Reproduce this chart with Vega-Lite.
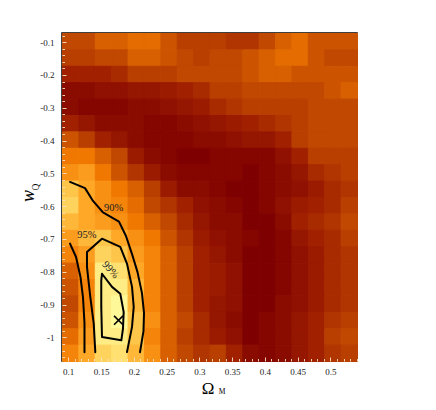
{
"$schema": "https://vega.github.io/schema/vega-lite/v6.json",
"width": 295, "height": 328,
"autosize": "none",
"padding": {"left": 62, "top": 33, "right": 79, "bottom": 49},
"background": "white",
"config": {"view": {"stroke": "#000", "strokeWidth": 1.5}, "font": "Liberation Serif"},
"datasets": {
"grid": [
{"om":0.103,"wq":-0.097,"v":5},{"om":0.128,"wq":-0.097,"v":5},{"om":0.153,"wq":-0.097,"v":6},{"om":0.178,"wq":-0.097,"v":6},{"om":0.203,"wq":-0.097,"v":6.5},{"om":0.228,"wq":-0.097,"v":6.5},{"om":0.253,"wq":-0.097,"v":5.5},{"om":0.278,"wq":-0.097,"v":4.5},{"om":0.303,"wq":-0.097,"v":4.5},{"om":0.328,"wq":-0.097,"v":4.5},{"om":0.353,"wq":-0.097,"v":4},{"om":0.378,"wq":-0.097,"v":4},{"om":0.403,"wq":-0.097,"v":5},{"om":0.428,"wq":-0.097,"v":6},{"om":0.453,"wq":-0.097,"v":6.5},{"om":0.478,"wq":-0.097,"v":5.5},{"om":0.503,"wq":-0.097,"v":5.5},{"om":0.528,"wq":-0.097,"v":5.5},
{"om":0.103,"wq":-0.147,"v":4.5},{"om":0.128,"wq":-0.147,"v":4.5},{"om":0.153,"wq":-0.147,"v":5},{"om":0.178,"wq":-0.147,"v":5},{"om":0.203,"wq":-0.147,"v":6},{"om":0.228,"wq":-0.147,"v":6},{"om":0.253,"wq":-0.147,"v":5.5},{"om":0.278,"wq":-0.147,"v":5},{"om":0.303,"wq":-0.147,"v":4.5},{"om":0.328,"wq":-0.147,"v":5},{"om":0.353,"wq":-0.147,"v":5},{"om":0.378,"wq":-0.147,"v":5.5},{"om":0.403,"wq":-0.147,"v":6},{"om":0.428,"wq":-0.147,"v":6.5},{"om":0.453,"wq":-0.147,"v":6.5},{"om":0.478,"wq":-0.147,"v":5.5},{"om":0.503,"wq":-0.147,"v":5},{"om":0.528,"wq":-0.147,"v":5},
{"om":0.103,"wq":-0.197,"v":3},{"om":0.128,"wq":-0.197,"v":3},{"om":0.153,"wq":-0.197,"v":3},{"om":0.178,"wq":-0.197,"v":3.5},{"om":0.203,"wq":-0.197,"v":4.5},{"om":0.228,"wq":-0.197,"v":4.5},{"om":0.253,"wq":-0.197,"v":4.5},{"om":0.278,"wq":-0.197,"v":5},{"om":0.303,"wq":-0.197,"v":5},{"om":0.328,"wq":-0.197,"v":5},{"om":0.353,"wq":-0.197,"v":5},{"om":0.378,"wq":-0.197,"v":5.5},{"om":0.403,"wq":-0.197,"v":6},{"om":0.428,"wq":-0.197,"v":6},{"om":0.453,"wq":-0.197,"v":5.5},{"om":0.478,"wq":-0.197,"v":5.5},{"om":0.503,"wq":-0.197,"v":5.5},{"om":0.528,"wq":-0.197,"v":5.5},
{"om":0.103,"wq":-0.247,"v":1},{"om":0.128,"wq":-0.247,"v":1},{"om":0.153,"wq":-0.247,"v":1.5},{"om":0.178,"wq":-0.247,"v":1.5},{"om":0.203,"wq":-0.247,"v":2},{"om":0.228,"wq":-0.247,"v":2},{"om":0.253,"wq":-0.247,"v":2.5},{"om":0.278,"wq":-0.247,"v":3},{"om":0.303,"wq":-0.247,"v":3.5},{"om":0.328,"wq":-0.247,"v":4.5},{"om":0.353,"wq":-0.247,"v":4.5},{"om":0.378,"wq":-0.247,"v":5},{"om":0.403,"wq":-0.247,"v":5},{"om":0.428,"wq":-0.247,"v":5},{"om":0.453,"wq":-0.247,"v":5},{"om":0.478,"wq":-0.247,"v":5},{"om":0.503,"wq":-0.247,"v":5.5},{"om":0.528,"wq":-0.247,"v":6},
{"om":0.103,"wq":-0.297,"v":1},{"om":0.128,"wq":-0.297,"v":0.5},{"om":0.153,"wq":-0.297,"v":0.5},{"om":0.178,"wq":-0.297,"v":0.5},{"om":0.203,"wq":-0.297,"v":1},{"om":0.228,"wq":-0.297,"v":1},{"om":0.253,"wq":-0.297,"v":1.5},{"om":0.278,"wq":-0.297,"v":2},{"om":0.303,"wq":-0.297,"v":2.5},{"om":0.328,"wq":-0.297,"v":3.5},{"om":0.353,"wq":-0.297,"v":4},{"om":0.378,"wq":-0.297,"v":4.5},{"om":0.403,"wq":-0.297,"v":4.5},{"om":0.428,"wq":-0.297,"v":4.5},{"om":0.453,"wq":-0.297,"v":4.5},{"om":0.478,"wq":-0.297,"v":5},{"om":0.503,"wq":-0.297,"v":5},{"om":0.528,"wq":-0.297,"v":5},
{"om":0.103,"wq":-0.347,"v":3},{"om":0.128,"wq":-0.347,"v":2},{"om":0.153,"wq":-0.347,"v":1},{"om":0.178,"wq":-0.347,"v":1},{"om":0.203,"wq":-0.347,"v":1},{"om":0.228,"wq":-0.347,"v":0.5},{"om":0.253,"wq":-0.347,"v":0.5},{"om":0.278,"wq":-0.347,"v":1},{"om":0.303,"wq":-0.347,"v":1.5},{"om":0.328,"wq":-0.347,"v":2},{"om":0.353,"wq":-0.347,"v":2.5},{"om":0.378,"wq":-0.347,"v":3},{"om":0.403,"wq":-0.347,"v":3.5},{"om":0.428,"wq":-0.347,"v":4},{"om":0.453,"wq":-0.347,"v":4.5},{"om":0.478,"wq":-0.347,"v":5},{"om":0.503,"wq":-0.347,"v":5},{"om":0.528,"wq":-0.347,"v":5},
{"om":0.103,"wq":-0.397,"v":5.5},{"om":0.128,"wq":-0.397,"v":4.5},{"om":0.153,"wq":-0.397,"v":3},{"om":0.178,"wq":-0.397,"v":2},{"om":0.203,"wq":-0.397,"v":1},{"om":0.228,"wq":-0.397,"v":0.5},{"om":0.253,"wq":-0.397,"v":0.5},{"om":0.278,"wq":-0.397,"v":0.5},{"om":0.303,"wq":-0.397,"v":1},{"om":0.328,"wq":-0.397,"v":1},{"om":0.353,"wq":-0.397,"v":1.5},{"om":0.378,"wq":-0.397,"v":2},{"om":0.403,"wq":-0.397,"v":2},{"om":0.428,"wq":-0.397,"v":3},{"om":0.453,"wq":-0.397,"v":4.5},{"om":0.478,"wq":-0.397,"v":5},{"om":0.503,"wq":-0.397,"v":5},{"om":0.528,"wq":-0.397,"v":5},
{"om":0.103,"wq":-0.447,"v":7},{"om":0.128,"wq":-0.447,"v":7},{"om":0.153,"wq":-0.447,"v":6},{"om":0.178,"wq":-0.447,"v":5},{"om":0.203,"wq":-0.447,"v":2.5},{"om":0.228,"wq":-0.447,"v":1},{"om":0.253,"wq":-0.447,"v":0.5},{"om":0.278,"wq":-0.447,"v":0},{"om":0.303,"wq":-0.447,"v":0},{"om":0.328,"wq":-0.447,"v":0.5},{"om":0.353,"wq":-0.447,"v":0.5},{"om":0.378,"wq":-0.447,"v":0.5},{"om":0.403,"wq":-0.447,"v":0.5},{"om":0.428,"wq":-0.447,"v":1.5},{"om":0.453,"wq":-0.447,"v":3},{"om":0.478,"wq":-0.447,"v":4.5},{"om":0.503,"wq":-0.447,"v":4.5},{"om":0.528,"wq":-0.447,"v":4.5},
{"om":0.103,"wq":-0.497,"v":8},{"om":0.128,"wq":-0.497,"v":8.5},{"om":0.153,"wq":-0.497,"v":7},{"om":0.178,"wq":-0.497,"v":5.5},{"om":0.203,"wq":-0.497,"v":4},{"om":0.228,"wq":-0.497,"v":2.5},{"om":0.253,"wq":-0.497,"v":1},{"om":0.278,"wq":-0.497,"v":0.5},{"om":0.303,"wq":-0.497,"v":0.5},{"om":0.328,"wq":-0.497,"v":0.5},{"om":0.353,"wq":-0.497,"v":0.5},{"om":0.378,"wq":-0.497,"v":0},{"om":0.403,"wq":-0.497,"v":0.5},{"om":0.428,"wq":-0.497,"v":1},{"om":0.453,"wq":-0.497,"v":2},{"om":0.478,"wq":-0.497,"v":3.5},{"om":0.503,"wq":-0.497,"v":4},{"om":0.528,"wq":-0.497,"v":4.5},
{"om":0.103,"wq":-0.547,"v":10},{"om":0.128,"wq":-0.547,"v":9},{"om":0.153,"wq":-0.547,"v":8},{"om":0.178,"wq":-0.547,"v":7},{"om":0.203,"wq":-0.547,"v":6},{"om":0.228,"wq":-0.547,"v":4.5},{"om":0.253,"wq":-0.547,"v":2.5},{"om":0.278,"wq":-0.547,"v":1},{"om":0.303,"wq":-0.547,"v":1},{"om":0.328,"wq":-0.547,"v":0.5},{"om":0.353,"wq":-0.547,"v":0},{"om":0.378,"wq":-0.547,"v":0},{"om":0.403,"wq":-0.547,"v":0.5},{"om":0.428,"wq":-0.547,"v":1},{"om":0.453,"wq":-0.547,"v":1.5},{"om":0.478,"wq":-0.547,"v":2.5},{"om":0.503,"wq":-0.547,"v":3.5},{"om":0.528,"wq":-0.547,"v":4},
{"om":0.103,"wq":-0.597,"v":10.5},{"om":0.128,"wq":-0.597,"v":9},{"om":0.153,"wq":-0.597,"v":8},{"om":0.178,"wq":-0.597,"v":7.5},{"om":0.203,"wq":-0.597,"v":6.5},{"om":0.228,"wq":-0.597,"v":5},{"om":0.253,"wq":-0.597,"v":4},{"om":0.278,"wq":-0.597,"v":3},{"om":0.303,"wq":-0.597,"v":1.5},{"om":0.328,"wq":-0.597,"v":1},{"om":0.353,"wq":-0.597,"v":0.5},{"om":0.378,"wq":-0.597,"v":0},{"om":0.403,"wq":-0.597,"v":0.5},{"om":0.428,"wq":-0.597,"v":1.5},{"om":0.453,"wq":-0.597,"v":2.5},{"om":0.478,"wq":-0.597,"v":3},{"om":0.503,"wq":-0.597,"v":3.5},{"om":0.528,"wq":-0.597,"v":4.5},
{"om":0.103,"wq":-0.647,"v":9.5},{"om":0.128,"wq":-0.647,"v":9},{"om":0.153,"wq":-0.647,"v":8.5},{"om":0.178,"wq":-0.647,"v":8},{"om":0.203,"wq":-0.647,"v":7},{"om":0.228,"wq":-0.647,"v":6},{"om":0.253,"wq":-0.647,"v":5},{"om":0.278,"wq":-0.647,"v":3.5},{"om":0.303,"wq":-0.647,"v":2},{"om":0.328,"wq":-0.647,"v":1},{"om":0.353,"wq":-0.647,"v":1},{"om":0.378,"wq":-0.647,"v":0},{"om":0.403,"wq":-0.647,"v":0},{"om":0.428,"wq":-0.647,"v":1},{"om":0.453,"wq":-0.647,"v":3},{"om":0.478,"wq":-0.647,"v":3.5},{"om":0.503,"wq":-0.647,"v":4},{"om":0.528,"wq":-0.647,"v":5},
{"om":0.103,"wq":-0.697,"v":8.5},{"om":0.128,"wq":-0.697,"v":9.5},{"om":0.153,"wq":-0.697,"v":10},{"om":0.178,"wq":-0.697,"v":9},{"om":0.203,"wq":-0.697,"v":8},{"om":0.228,"wq":-0.697,"v":7},{"om":0.253,"wq":-0.697,"v":5.5},{"om":0.278,"wq":-0.697,"v":4},{"om":0.303,"wq":-0.697,"v":2.5},{"om":0.328,"wq":-0.697,"v":1.5},{"om":0.353,"wq":-0.697,"v":1},{"om":0.378,"wq":-0.697,"v":0.5},{"om":0.403,"wq":-0.697,"v":0},{"om":0.428,"wq":-0.697,"v":0.5},{"om":0.453,"wq":-0.697,"v":2},{"om":0.478,"wq":-0.697,"v":3},{"om":0.503,"wq":-0.697,"v":3.5},{"om":0.528,"wq":-0.697,"v":4.5},
{"om":0.103,"wq":-0.747,"v":7.5},{"om":0.128,"wq":-0.747,"v":8.5},{"om":0.153,"wq":-0.747,"v":10.5},{"om":0.178,"wq":-0.747,"v":10},{"om":0.203,"wq":-0.747,"v":8.5},{"om":0.228,"wq":-0.747,"v":7.5},{"om":0.253,"wq":-0.747,"v":6},{"om":0.278,"wq":-0.747,"v":4.5},{"om":0.303,"wq":-0.747,"v":3},{"om":0.328,"wq":-0.747,"v":2},{"om":0.353,"wq":-0.747,"v":1},{"om":0.378,"wq":-0.747,"v":0},{"om":0.403,"wq":-0.747,"v":0},{"om":0.428,"wq":-0.747,"v":0.5},{"om":0.453,"wq":-0.747,"v":1.5},{"om":0.478,"wq":-0.747,"v":2.5},{"om":0.503,"wq":-0.747,"v":3.5},{"om":0.528,"wq":-0.747,"v":4},
{"om":0.103,"wq":-0.797,"v":6},{"om":0.128,"wq":-0.797,"v":8},{"om":0.153,"wq":-0.797,"v":11.5},{"om":0.178,"wq":-0.797,"v":11},{"om":0.203,"wq":-0.797,"v":9},{"om":0.228,"wq":-0.797,"v":7.5},{"om":0.253,"wq":-0.797,"v":6},{"om":0.278,"wq":-0.797,"v":4.5},{"om":0.303,"wq":-0.797,"v":3},{"om":0.328,"wq":-0.797,"v":2.5},{"om":0.353,"wq":-0.797,"v":1.5},{"om":0.378,"wq":-0.797,"v":0},{"om":0.403,"wq":-0.797,"v":0},{"om":0.428,"wq":-0.797,"v":0.5},{"om":0.453,"wq":-0.797,"v":1.5},{"om":0.478,"wq":-0.797,"v":2.5},{"om":0.503,"wq":-0.797,"v":3.5},{"om":0.528,"wq":-0.797,"v":4},
{"om":0.103,"wq":-0.847,"v":5.5},{"om":0.128,"wq":-0.847,"v":7.5},{"om":0.153,"wq":-0.847,"v":11.5},{"om":0.178,"wq":-0.847,"v":11.5},{"om":0.203,"wq":-0.847,"v":9.5},{"om":0.228,"wq":-0.847,"v":7.5},{"om":0.253,"wq":-0.847,"v":6},{"om":0.278,"wq":-0.847,"v":4.5},{"om":0.303,"wq":-0.847,"v":3},{"om":0.328,"wq":-0.847,"v":2.5},{"om":0.353,"wq":-0.847,"v":1.5},{"om":0.378,"wq":-0.847,"v":0},{"om":0.403,"wq":-0.847,"v":0},{"om":0.428,"wq":-0.847,"v":0.5},{"om":0.453,"wq":-0.847,"v":1.5},{"om":0.478,"wq":-0.847,"v":2.5},{"om":0.503,"wq":-0.847,"v":3.5},{"om":0.528,"wq":-0.847,"v":4},
{"om":0.103,"wq":-0.897,"v":5},{"om":0.128,"wq":-0.897,"v":7.5},{"om":0.153,"wq":-0.897,"v":11.5},{"om":0.178,"wq":-0.897,"v":12},{"om":0.203,"wq":-0.897,"v":9.5},{"om":0.228,"wq":-0.897,"v":7.5},{"om":0.253,"wq":-0.897,"v":6},{"om":0.278,"wq":-0.897,"v":4.5},{"om":0.303,"wq":-0.897,"v":3},{"om":0.328,"wq":-0.897,"v":2},{"om":0.353,"wq":-0.897,"v":1.5},{"om":0.378,"wq":-0.897,"v":0},{"om":0.403,"wq":-0.897,"v":0},{"om":0.428,"wq":-0.897,"v":1},{"om":0.453,"wq":-0.897,"v":1.5},{"om":0.478,"wq":-0.897,"v":2.5},{"om":0.503,"wq":-0.897,"v":3.5},{"om":0.528,"wq":-0.897,"v":4},
{"om":0.103,"wq":-0.947,"v":5.5},{"om":0.128,"wq":-0.947,"v":8},{"om":0.153,"wq":-0.947,"v":11.5},{"om":0.178,"wq":-0.947,"v":12},{"om":0.203,"wq":-0.947,"v":10},{"om":0.228,"wq":-0.947,"v":8},{"om":0.253,"wq":-0.947,"v":6},{"om":0.278,"wq":-0.947,"v":5},{"om":0.303,"wq":-0.947,"v":3.5},{"om":0.328,"wq":-0.947,"v":2},{"om":0.353,"wq":-0.947,"v":1},{"om":0.378,"wq":-0.947,"v":0},{"om":0.403,"wq":-0.947,"v":0.5},{"om":0.428,"wq":-0.947,"v":1},{"om":0.453,"wq":-0.947,"v":2},{"om":0.478,"wq":-0.947,"v":3},{"om":0.503,"wq":-0.947,"v":4},{"om":0.528,"wq":-0.947,"v":4.5},
{"om":0.103,"wq":-0.997,"v":6.5},{"om":0.128,"wq":-0.997,"v":8.5},{"om":0.153,"wq":-0.997,"v":11.5},{"om":0.178,"wq":-0.997,"v":11.5},{"om":0.203,"wq":-0.997,"v":10},{"om":0.228,"wq":-0.997,"v":7.5},{"om":0.253,"wq":-0.997,"v":6},{"om":0.278,"wq":-0.997,"v":4.5},{"om":0.303,"wq":-0.997,"v":3.5},{"om":0.328,"wq":-0.997,"v":2.5},{"om":0.353,"wq":-0.997,"v":1.5},{"om":0.378,"wq":-0.997,"v":0},{"om":0.403,"wq":-0.997,"v":0.5},{"om":0.428,"wq":-0.997,"v":1},{"om":0.453,"wq":-0.997,"v":2},{"om":0.478,"wq":-0.997,"v":3},{"om":0.503,"wq":-0.997,"v":4.5},{"om":0.528,"wq":-0.997,"v":5},
{"om":0.103,"wq":-1.047,"v":7.5},{"om":0.128,"wq":-1.047,"v":9},{"om":0.153,"wq":-1.047,"v":10.5},{"om":0.178,"wq":-1.047,"v":11},{"om":0.203,"wq":-1.047,"v":9.5},{"om":0.228,"wq":-1.047,"v":8},{"om":0.253,"wq":-1.047,"v":6},{"om":0.278,"wq":-1.047,"v":5},{"om":0.303,"wq":-1.047,"v":4},{"om":0.328,"wq":-1.047,"v":4.5},{"om":0.353,"wq":-1.047,"v":3},{"om":0.378,"wq":-1.047,"v":1},{"om":0.403,"wq":-1.047,"v":0.5},{"om":0.428,"wq":-1.047,"v":1},{"om":0.453,"wq":-1.047,"v":2},{"om":0.478,"wq":-1.047,"v":3},{"om":0.503,"wq":-1.047,"v":4},{"om":0.528,"wq":-1.047,"v":4.5}
],
"lines": [
{"c":"A","i":0,"om":0.1027,"wq":-0.526},{"c":"A","i":1,"om":0.1256,"wq":-0.545},{"c":"A","i":2,"om":0.1378,"wq":-0.584},{"c":"A","i":3,"om":0.153,"wq":-0.619},{"c":"A","i":4,"om":0.1774,"wq":-0.647},{"c":"A","i":5,"om":0.1881,"wq":-0.691},{"c":"A","i":6,"om":0.1973,"wq":-0.746},{"c":"A","i":7,"om":0.2057,"wq":-0.801},{"c":"A","i":8,"om":0.2125,"wq":-0.865},{"c":"A","i":9,"om":0.2156,"wq":-0.926},{"c":"A","i":10,"om":0.2148,"wq":-0.981},{"c":"A","i":11,"om":0.2095,"wq":-1.045},
{"c":"B","i":0,"om":0.1027,"wq":-0.714},{"c":"B","i":1,"om":0.1119,"wq":-0.755},{"c":"B","i":2,"om":0.1187,"wq":-0.816},{"c":"B","i":3,"om":0.1225,"wq":-0.877},{"c":"B","i":4,"om":0.1248,"wq":-0.956},{"c":"B","i":5,"om":0.1248,"wq":-1.045},
{"c":"C","i":0,"om":0.1413,"wq":-1.045},{"c":"C","i":1,"om":0.1389,"wq":-0.958},{"c":"C","i":2,"om":0.1337,"wq":-0.877},{"c":"C","i":3,"om":0.1286,"wq":-0.785},{"c":"C","i":4,"om":0.1286,"wq":-0.74},{"c":"C","i":5,"om":0.1515,"wq":-0.699},{"c":"C","i":6,"om":0.1794,"wq":-0.724},{"c":"C","i":7,"om":0.1896,"wq":-0.775},{"c":"C","i":8,"om":0.1973,"wq":-0.846},{"c":"C","i":9,"om":0.1999,"wq":-0.907},{"c":"C","i":10,"om":0.1973,"wq":-0.968},{"c":"C","i":11,"om":0.1896,"wq":-1.045},
{"c":"D","i":0,"om":0.1515,"wq":-0.806},{"c":"D","i":1,"om":0.1668,"wq":-0.846},{"c":"D","i":2,"om":0.1794,"wq":-0.867},{"c":"D","i":3,"om":0.1846,"wq":-0.923},{"c":"D","i":4,"om":0.1835,"wq":-0.974},{"c":"D","i":5,"om":0.181,"wq":-1.009},{"c":"D","i":6,"om":0.1515,"wq":-0.999},{"c":"D","i":7,"om":0.1504,"wq":-0.907},{"c":"D","i":8,"om":0.1504,"wq":-0.826},{"c":"D","i":9,"om":0.1515,"wq":-0.806}
],
"labs": [
{"om":0.1694,"wq":-0.605,"t":"90%"},{"om":0.1286,"wq":-0.689,"t":"95%"}
],
"lab99": [{"om":0.1642,"wq":-0.794,"t":"99%"}],
"best": [{"om":0.1767,"wq":-0.948}]
},
"layer": [
{
"data": {"name": "grid"},
"mark": {"type": "rect", "strokeWidth": 1, "binSpacing": 0},
"encoding": {
"x": {"field": "om", "type": "quantitative", "bin": {"extent": [0.0905, 0.5405], "step": 0.025, "nice": false},
"scale": {"domain": [0.0905, 0.5405], "nice": false, "zero": false},
"axis": {"orient": "bottom", "values": [0.1,0.11,0.12,0.13,0.14,0.15,0.16,0.17,0.18,0.19,0.2,0.21,0.22,0.23,0.24,0.25,0.26,0.27,0.28,0.29,0.3,0.31,0.32,0.33,0.34,0.35,0.36,0.37,0.38,0.39,0.4,0.41,0.42,0.43,0.44,0.45,0.46,0.47,0.48,0.49,0.5,0.51,0.52,0.53,0.54],
"labelExpr": "abs(datum.value*20-round(datum.value*20))<1e-6 ? toString(datum.value) : ''",
"tickSize": {"condition": {"test": "abs(datum.value*20-round(datum.value*20))<1e-6", "value": -4}, "value": -2.5},
"tickColor": "#fbe3c8", "tickOpacity": 0.9, "tickWidth": 1,
"labelPadding": 10, "labelFont": "Liberation Serif", "labelFontSize": 9, "labelColor": "#222",
"labelFlush": false, "labelOverlap": false, "grid": false, "domain": false,
"title": "Ω", "titleFont": "Liberation Serif", "titleFontSize": 17, "titleFontWeight": "normal", "titleColor": "#000",
"titleX": 145.5, "titleY": 32, "titleAlign": "center", "titleBaseline": "alphabetic"}},
"y": {"field": "wq", "type": "quantitative", "bin": {"extent": [-1.072, -0.072], "step": 0.05, "nice": false},
"scale": {"domain": [-1.072, -0.072], "nice": false, "zero": false},
"axis": {"orient": "left", "values": [-0.08,-0.1,-0.12,-0.14,-0.16,-0.18,-0.2,-0.22,-0.24,-0.26,-0.28,-0.3,-0.32,-0.34,-0.36,-0.38,-0.4,-0.42,-0.44,-0.46,-0.48,-0.5,-0.52,-0.54,-0.56,-0.58,-0.6,-0.62,-0.64,-0.66,-0.68,-0.7,-0.72,-0.74,-0.76,-0.78,-0.8,-0.82,-0.84,-0.86,-0.88,-0.9,-0.92,-0.94,-0.96,-0.98,-1,-1.02,-1.04,-1.06],
"labelExpr": "abs(datum.value*10-round(datum.value*10))<1e-6 ? toString(datum.value) : ''",
"tickSize": {"condition": {"test": "abs(datum.value*10-round(datum.value*10))<1e-6", "value": -4}, "value": -2.5},
"tickColor": "#fbe3c8", "tickOpacity": 0.9, "tickWidth": 1,
"labelPadding": 12, "labelFont": "Liberation Serif", "labelFontSize": 9, "labelColor": "#222",
"labelFlush": false, "labelOverlap": false, "grid": false, "domain": false,
"title": "w", "titleFont": "Liberation Serif", "titleFontSize": 18, "titleFontStyle": "italic", "titleFontWeight": "normal", "titleColor": "#000",
"titleAngle": 270, "titleX": -28.7, "titleY": 162.5, "titleAlign": "center", "titleBaseline": "alphabetic"}},
"color": {"field": "v", "type": "quantitative", "legend": null,
"scale": {"domain": [0, 3, 5, 7, 9, 11, 12], "range": ["#7f0000", "#a02000", "#c04800", "#f07800", "#ffa828", "#ffe070", "#fff898"]}},
"stroke": {"field": "v", "type": "quantitative", "legend": null,
"scale": {"domain": [0, 3, 5, 7, 9, 11, 12], "range": ["#7f0000", "#a02000", "#c04800", "#f07800", "#ffa828", "#ffe070", "#fff898"]}}
}
},
{
"data": {"name": "lines"},
"mark": {"type": "line", "stroke": "#000", "strokeWidth": 2, "strokeJoin": "round", "strokeCap": "round"},
"encoding": {
"x": {"field": "om", "type": "quantitative", "scale": {"domain": [0.0905, 0.5405], "nice": false, "zero": false},
"axis": {"orient": "top", "values": [0.1,0.11,0.12,0.13,0.14,0.15,0.16,0.17,0.18,0.19,0.2,0.21,0.22,0.23,0.24,0.25,0.26,0.27,0.28,0.29,0.3,0.31,0.32,0.33,0.34,0.35,0.36,0.37,0.38,0.39,0.4,0.41,0.42,0.43,0.44,0.45,0.46,0.47,0.48,0.49,0.5,0.51,0.52,0.53,0.54],
"labels": false, "title": null, "grid": false, "domain": false,
"tickSize": {"condition": {"test": "abs(datum.value*20-round(datum.value*20))<1e-6", "value": -4}, "value": -2.5},
"tickColor": "#fbe3c8", "tickOpacity": 0.9, "tickWidth": 1}},
"y": {"field": "wq", "type": "quantitative", "scale": {"domain": [-1.072, -0.072], "nice": false, "zero": false},
"axis": {"orient": "right", "values": [-0.08,-0.1,-0.12,-0.14,-0.16,-0.18,-0.2,-0.22,-0.24,-0.26,-0.28,-0.3,-0.32,-0.34,-0.36,-0.38,-0.4,-0.42,-0.44,-0.46,-0.48,-0.5,-0.52,-0.54,-0.56,-0.58,-0.6,-0.62,-0.64,-0.66,-0.68,-0.7,-0.72,-0.74,-0.76,-0.78,-0.8,-0.82,-0.84,-0.86,-0.88,-0.9,-0.92,-0.94,-0.96,-0.98,-1,-1.02,-1.04,-1.06],
"labels": false, "title": null, "grid": false, "domain": false,
"tickSize": {"condition": {"test": "abs(datum.value*10-round(datum.value*10))<1e-6", "value": -4}, "value": -2.5},
"tickColor": "#fbe3c8", "tickOpacity": 0.9, "tickWidth": 1}},
"detail": {"field": "c"},
"order": {"field": "i", "type": "quantitative"}
}
},
{
"data": {"name": "labs"},
"mark": {"type": "text", "font": "Liberation Serif", "fontSize": 10.5, "color": "#222"},
"encoding": {
"x": {"field": "om", "type": "quantitative", "scale": {"domain": [0.0905, 0.5405], "nice": false, "zero": false},
"axis": {"orient": "bottom", "ticks": false, "labels": false, "domain": false, "grid": false,
"title": "M", "titleFont": "Liberation Serif", "titleFontSize": 7.5, "titleFontWeight": "normal", "titleColor": "#000",
"titleX": 156.3, "titleY": 32, "titleAlign": "left", "titleBaseline": "alphabetic"}},
"y": {"field": "wq", "type": "quantitative", "scale": {"domain": [-1.072, -0.072], "nice": false, "zero": false},
"axis": {"orient": "left", "ticks": false, "labels": false, "domain": false, "grid": false,
"title": "Q", "titleFont": "Liberation Serif", "titleFontSize": 9.5, "titleFontWeight": "normal", "titleColor": "#000",
"titleAngle": 270, "titleX": -23.5, "titleY": 153.5, "titleAlign": "center", "titleBaseline": "alphabetic"}},
"text": {"field": "t"}
}
},
{
"data": {"name": "lab99"},
"mark": {"type": "text", "font": "Liberation Serif", "fontSize": 10.5, "color": "#222", "angle": 48},
"encoding": {
"x": {"field": "om", "type": "quantitative", "scale": {"domain": [0.0905, 0.5405], "nice": false, "zero": false}, "axis": null},
"y": {"field": "wq", "type": "quantitative", "scale": {"domain": [-1.072, -0.072], "nice": false, "zero": false}, "axis": null},
"text": {"field": "t"}
}
},
{
"data": {"name": "best"},
"mark": {"type": "point", "shape": "M-1,-1L1,1M-1,1L1,-1", "size": 80, "stroke": "#000", "strokeWidth": 1.6, "filled": false, "opacity": 1},
"encoding": {
"x": {"field": "om", "type": "quantitative", "scale": {"domain": [0.0905, 0.5405], "nice": false, "zero": false}, "axis": null},
"y": {"field": "wq", "type": "quantitative", "scale": {"domain": [-1.072, -0.072], "nice": false, "zero": false}, "axis": null}
}
}
],
"resolve": {"axis": {"x": "independent", "y": "independent"}}
}
